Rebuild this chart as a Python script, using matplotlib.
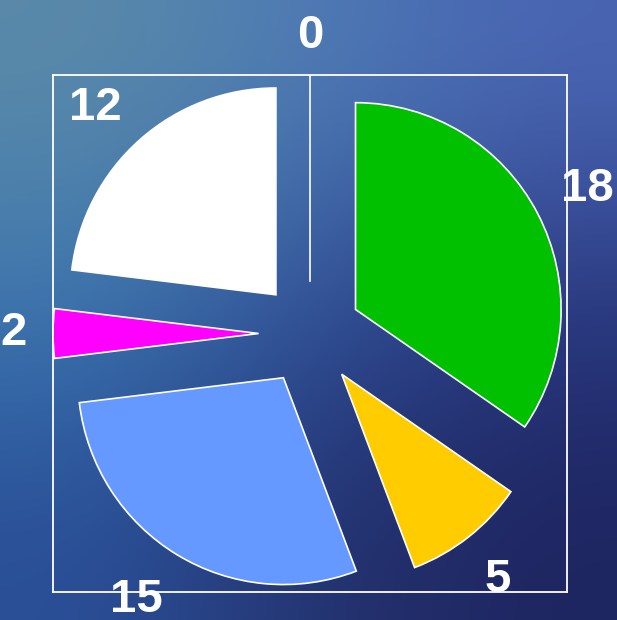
import matplotlib
matplotlib.use("Agg")
import matplotlib.pyplot as plt
import numpy as np
from matplotlib.colors import to_rgb

# Data (clockwise from the top)
values = [0, 18, 5, 15, 2, 12]
labels = ["0", "18", "5", "15", "2", "12"]
colors = ["#ffffff", "#00c000", "#ffcc00", "#6699ff", "#ff00ff", "#ffffff"]

W, H = 617, 620
fig = plt.figure(figsize=(W / 100, H / 100), dpi=100)

# Ocean-like background gradient
bg_grid = [
    ["#5b8aa8", "#4e7db6", "#4a66b4"],
    ["#3b78b2", "#2e4e98", "#27357c"],
    ["#2a4f98", "#24336f", "#1e2560"],
]
bg = np.array([[to_rgb(c) for c in row] for row in bg_grid])
bg_ax = fig.add_axes([0, 0, 1, 1])
bg_ax.imshow(bg, interpolation="bicubic", aspect="auto", extent=[0, 1, 0, 1])
bg_ax.set_axis_off()

# Pie axes, framed by a thin white box
left, right = 53 / W, 567 / W
bottom, top = (H - 592) / H, (H - 75) / H
ax = fig.add_axes([left, bottom, right - left, top - bottom])
ax.patch.set_alpha(0)

explode = 0.25
wedges, texts = ax.pie(values, labels=labels, colors=colors,
                       explode=[explode] * len(values),
                       startangle=90, counterclock=False,
                       wedgeprops=dict(edgecolor="white", linewidth=1.2),
                       textprops=dict(color="white", fontsize=34,
                                      fontweight="bold",
                                      family="Liberation Sans"))

# Labels anchored just outside the exploded pie
label_r = 1.38
for w, t in zip(wedges, texts):
    theta = np.deg2rad((w.theta1 + w.theta2) / 2)
    c, s = np.cos(theta), np.sin(theta)
    t.set_position((label_r * c, label_r * s))
    t.set_ha("left" if c > 0.3 else "right" if c < -0.3 else "center")
    t.set_va("baseline" if s > 0.3 else "top" if s < -0.3 else "center")
    t.set_clip_on(False)

lim = 1 + explode
ax.set_xlim(-lim, lim)
ax.set_ylim(-lim, lim)
ax.set_aspect("auto")
ax.set_xticks([])
ax.set_yticks([])
ax.set_frame_on(True)
for sp in ax.spines.values():
    sp.set_color("white")
    sp.set_linewidth(1.3)
    sp.set_visible(True)

fig.savefig("out.png", dpi=100)
